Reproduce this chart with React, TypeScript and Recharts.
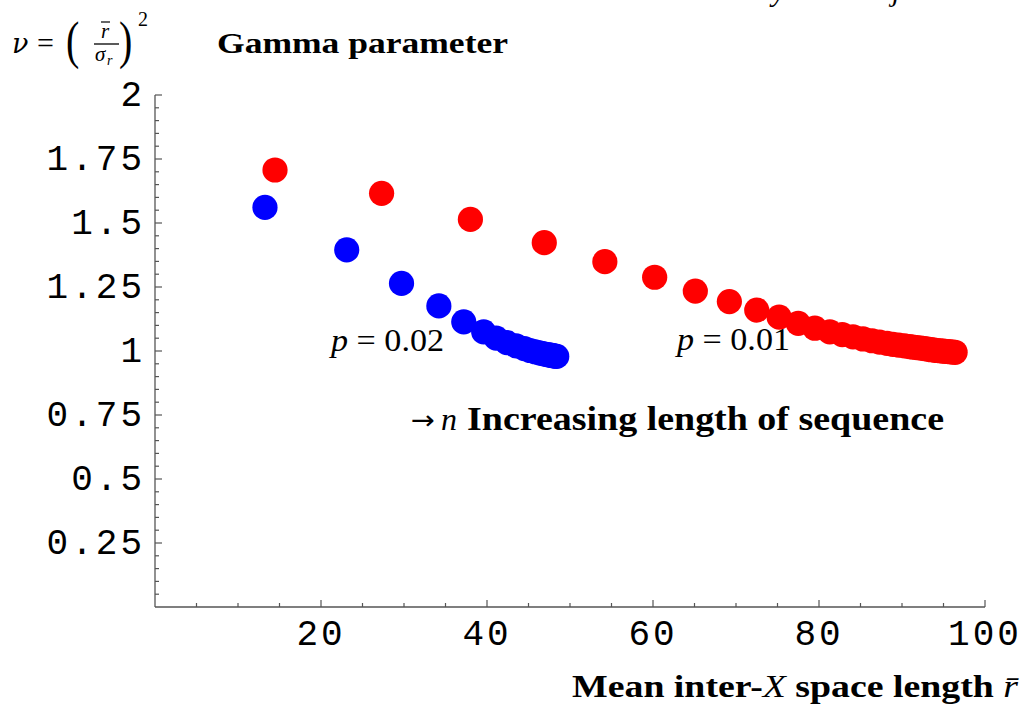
import React from 'react';
import { ScatterChart, Scatter, XAxis, YAxis } from 'recharts';

// p = 0.02 series (blue)
const blueX = [13.25, 23.1, 29.7, 34.2, 37.2, 39.6, 41.1, 42.4, 43.5, 44.5, 45.2, 45.8, 46.3, 46.7, 47.1, 47.4, 47.6, 47.8, 48.0, 48.2, 48.4];
const blueY = [1.561, 1.395, 1.264, 1.176, 1.114, 1.075, 1.05, 1.033, 1.02, 1.009, 1.002, 0.997, 0.993, 0.99, 0.987, 0.985, 0.984, 0.983, 0.981, 0.98, 0.979];

// p = 0.01 series (red)
const redX = [14.46, 27.3, 38.0, 46.9, 54.2, 60.2, 65.1, 69.2, 72.5, 75.2, 77.5, 79.5, 81.3, 82.8, 84.1, 85.3, 86.4, 87.3, 88.2, 88.9, 89.6, 90.3, 90.9, 91.3, 91.8, 92.3, 92.7, 93.1, 93.5, 93.9, 94.2, 94.6, 94.9, 95.2, 95.5, 95.8, 96.1, 96.4];
const redY = [1.707, 1.616, 1.514, 1.423, 1.349, 1.288, 1.234, 1.193, 1.16, 1.132, 1.108, 1.089, 1.075, 1.064, 1.055, 1.047, 1.04, 1.035, 1.03, 1.026, 1.023, 1.02, 1.017, 1.015, 1.013, 1.011, 1.009, 1.007, 1.005, 1.004, 1.002, 1.001, 1.0, 0.999, 0.998, 0.997, 0.996, 0.995];

// axis ticks (minor + major)
const xTicks = [5, 10, 15, 20, 25, 30, 35, 40, 45, 50, 55, 60, 65, 70, 75, 80, 85, 90, 95, 100];
const xMajor = [20, 40, 60, 80, 100];
const yTicks = [0.05, 0.1, 0.15, 0.2, 0.25, 0.3, 0.35, 0.4, 0.45, 0.5, 0.55, 0.6, 0.65, 0.7, 0.75, 0.8, 0.85, 0.9, 0.95, 1, 1.05, 1.1, 1.15, 1.2, 1.25, 1.3, 1.35, 1.4, 1.45, 1.5, 1.55, 1.6, 1.65, 1.7, 1.75, 1.8, 1.85, 1.9, 1.95, 2];
const yMajor = [0.25, 0.5, 0.75, 1, 1.25, 1.5, 1.75, 2];

const blueData = blueX.map((x, i) => ({ x, y: blueY[i] }));
const redData = redX.map((x, i) => ({ x, y: redY[i] }));

const AXIS = '#555';
const MONO = '"Liberation Mono", "DejaVu Sans Mono", monospace';
const SERIF = '"Liberation Serif", "DejaVu Serif", serif';

const isMajor = (v: number, list: number[]) => list.some((m) => Math.abs(m - v) < 1e-6);

const XTick = (props: any) => {
  const { x, y, payload } = props;
  const v = payload.value;
  const major = isMajor(v, xMajor);
  return (
    <g>
      <line x1={x} x2={x} y1={y} y2={y - (major ? 7 : 4)} stroke={AXIS} strokeWidth={1.2} />
      {major && (
        <text x={x} y={y + 38} textAnchor="middle" fontFamily={MONO} fontSize={36} letterSpacing={3} fill="#000">
          {String(v)}
        </text>
      )}
    </g>
  );
};

const YTick = (props: any) => {
  const { x, y, payload } = props;
  const v = payload.value;
  const major = isMajor(v, yMajor);
  return (
    <g>
      <line x1={x} x2={x + (major ? 7 : 4)} y1={y} y2={y} stroke={AXIS} strokeWidth={1.2} />
      {major && (
        <text x={x - 10} y={y + 11} textAnchor="end" fontFamily={MONO} fontSize={36} letterSpacing={3} fill="#000">
          {String(v)}
        </text>
      )}
    </g>
  );
};

const Dot = (color: string) => (props: any) => (
  <circle cx={props.cx} cy={props.cy} r={12.6} fill={color} />
);

export default function App() {
  return (
    <div style={{ position: 'absolute', left: 0, top: 0, width: 1023, height: 706, background: '#fff' }}>
      <ScatterChart width={1023} height={706} margin={{ top: 95, right: 38, bottom: 59, left: 95 }}>
        <XAxis
          type="number"
          dataKey="x"
          domain={[0, 100]}
          ticks={xTicks}
          interval={0}
          height={40}
          tickSize={0}
          tickMargin={0}
          tick={<XTick />}
          axisLine={{ stroke: AXIS, strokeWidth: 1.3 }}
          tickLine={false}
          allowDataOverflow
        />
        <YAxis
          type="number"
          dataKey="y"
          domain={[0, 2]}
          ticks={yTicks}
          interval={0}
          width={60}
          tickSize={0}
          tickMargin={0}
          tick={<YTick />}
          axisLine={{ stroke: AXIS, strokeWidth: 1.3 }}
          tickLine={false}
          allowDataOverflow
        />
        <Scatter data={redData} fill="#ff0000" shape={Dot('#ff0000')} isAnimationActive={false} />
        <Scatter data={blueData} fill="#0000ff" shape={Dot('#0000ff')} isAnimationActive={false} />
      </ScatterChart>
      <svg width={1023} height={706} style={{ position: 'absolute', left: 0, top: 0, pointerEvents: 'none' }}>
        {/* cut-off title glyphs at top */}
        <text x={772} y={1} fontFamily={SERIF} fontStyle="italic" fontSize={30} fill="#000">y</text>
        <text x={892} y={1} fontFamily={SERIF} fontStyle="italic" fontSize={30} fill="#000">j</text>

        {/* y label formula */}
        <text x={12} y={53} fontFamily='"DejaVu Serif", serif' fontStyle="italic" fontSize={27} fill="#000">ν</text>
        <text x={37} y={53} fontFamily={SERIF} fontSize={30} fill="#000">=</text>
        <text x={66} y={0} fontFamily={SERIF} fontSize={40} fill="#000" transform="translate(0,58) scale(1,1.3)">(</text>
        <text x={105} y={38} textAnchor="middle" fontFamily={SERIF} fontStyle="italic" fontSize={21} fill="#000">r</text>
        <line x1={101} x2={110} y1={22} y2={22} stroke="#000" strokeWidth={1.2} />
        <line x1={94} x2={119} y1={44} y2={44} stroke="#000" strokeWidth={1.3} />
        <text x={95} y={61} fontFamily={SERIF} fontStyle="italic" fontSize={21} fill="#000">σ</text>
        <text x={107} y={65} fontFamily={SERIF} fontStyle="italic" fontSize={14} fill="#000">r</text>
        <text x={119} y={0} fontFamily={SERIF} fontSize={40} fill="#000" transform="translate(0,58) scale(1,1.3)">)</text>
        <text x={138} y={26} fontFamily={SERIF} fontSize={20} fill="#000">2</text>

        {/* title */}
        <text x={217} y={53} fontFamily={SERIF} fontWeight="bold" fontSize={30} textLength={291} lengthAdjust="spacingAndGlyphs" fill="#000">Gamma parameter</text>

        {/* series annotations */}
        <text x={331} y={351} fontFamily={SERIF} fontSize={32} fill="#000" textLength={113} lengthAdjust="spacingAndGlyphs">
          <tspan fontStyle="italic">p</tspan>
          <tspan> = 0.02</tspan>
        </text>
        <text x={677} y={350} fontFamily={SERIF} fontSize={32} fill="#000" textLength={113} lengthAdjust="spacingAndGlyphs">
          <tspan fontStyle="italic">p</tspan>
          <tspan> = 0.01</tspan>
        </text>

        {/* increasing n note */}
        <text x={411} y={429} fontFamily='"DejaVu Sans", sans-serif' fontSize={26} fill="#000" textLength={24} lengthAdjust="spacingAndGlyphs">→</text>
        <text x={441} y={430} fontFamily={SERIF} fontStyle="italic" fontSize={32} fill="#000">n</text>
        <text x={467} y={430} fontFamily={SERIF} fontWeight="bold" fontSize={33} textLength={477} lengthAdjust="spacingAndGlyphs" fill="#000">Increasing length of sequence</text>

        {/* x label */}
        <text x={572} y={697} fontFamily={SERIF} fontWeight="bold" fontSize={31} fill="#000" textLength={446} lengthAdjust="spacingAndGlyphs">
          <tspan>Mean inter-</tspan>
          <tspan fontStyle="italic" fontWeight="normal">X</tspan>
          <tspan> space length </tspan>
          <tspan fontStyle="italic" fontWeight="normal">r̄</tspan>
        </text>
      </svg>
    </div>
  );
}
